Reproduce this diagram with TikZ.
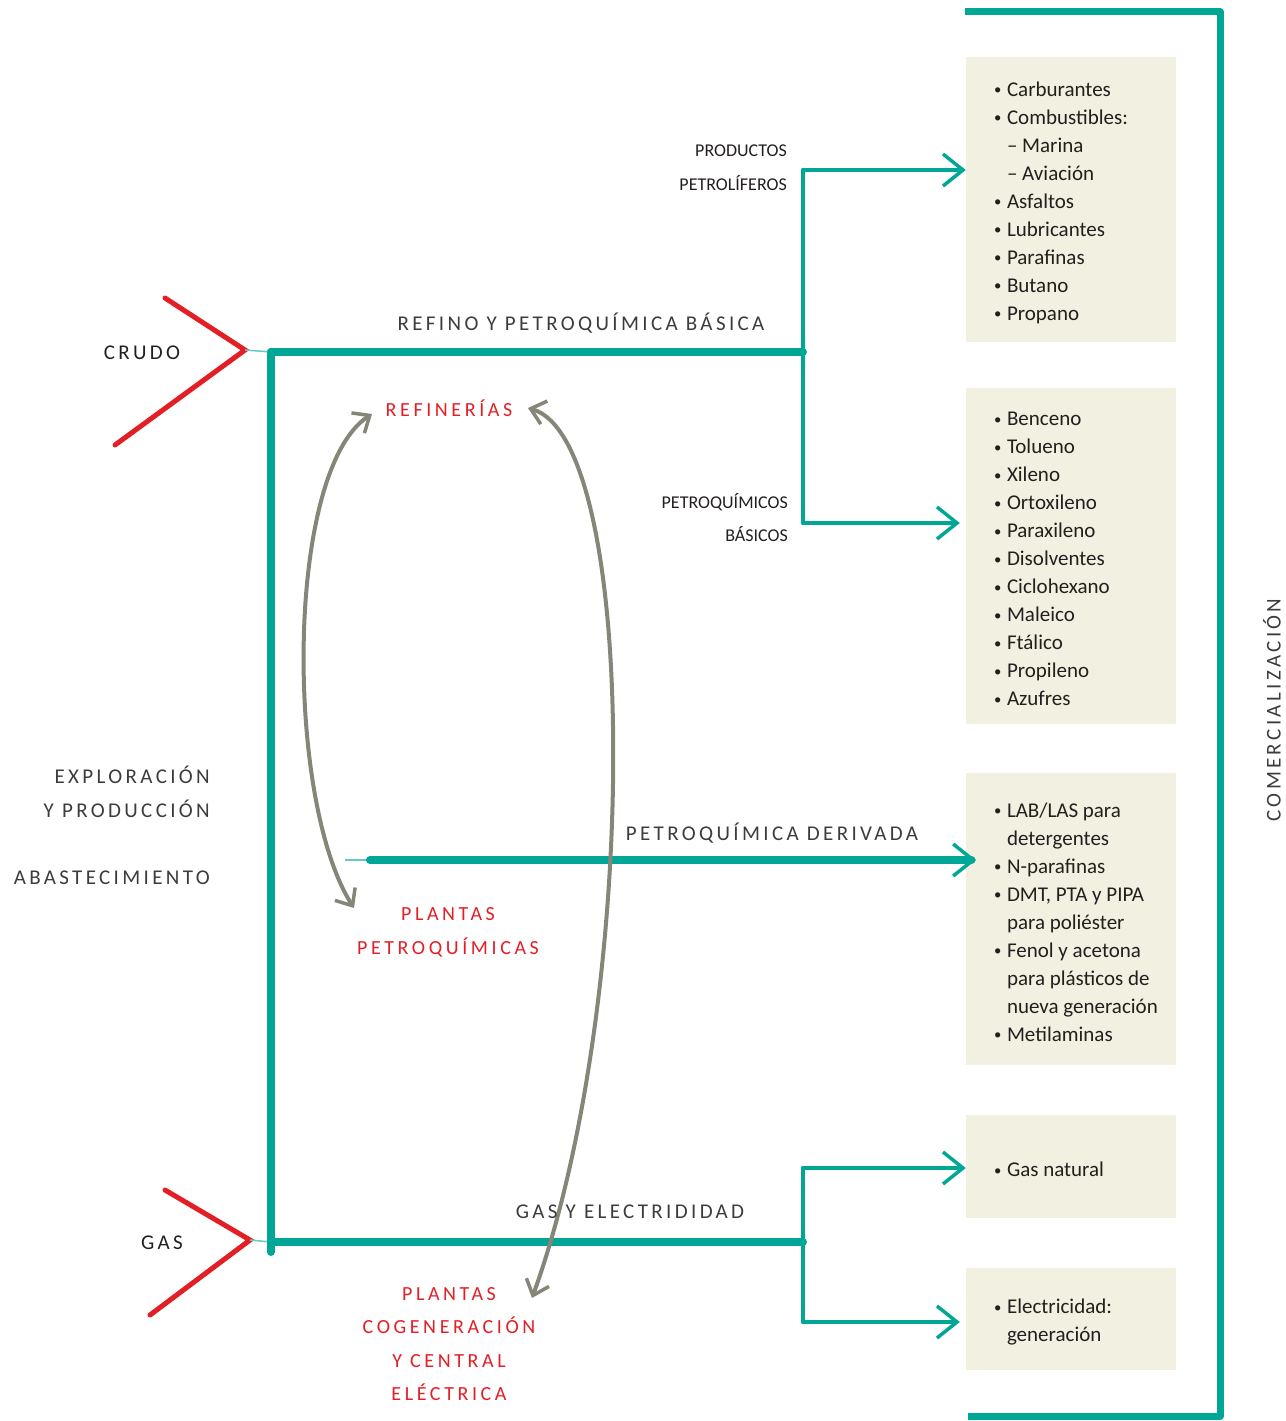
\documentclass[tikz,border=0pt]{standalone}
\usepackage{fontspec}
\setmainfont{Carlito}
\newfontfamily\spacedfont[LetterSpace=16]{Carlito}
\newfontfamily\redspacedfont[LetterSpace=18]{Carlito}
\usetikzlibrary{arrows.meta}
\definecolor{flowteal}{RGB}{0,166,150}
\definecolor{crudered}{RGB}{227,30,36}
\definecolor{loopgrey}{RGB}{134,134,120}
\definecolor{boxfill}{RGB}{242,240,225}
\definecolor{inktext}{RGB}{35,31,32}
\definecolor{thintext}{RGB}{60,60,60}
\newcommand{\listbullet}{\makebox[13pt][l]{\raisebox{1.5pt}{\scalebox{0.7}{\textbullet}}}}
\newcommand{\listindent}{\hspace*{13pt}}
\begin{document}
\begin{tikzpicture}[x=1pt,y=-1pt,
	mainline/.style={draw=flowteal,line width=8pt,line cap=round},
	branchline/.style={draw=flowteal,line width=4pt,line cap=round},
	faintline/.style={draw=flowteal!60,line width=1.5pt},
	tealtip/.style={-{Straight Barb[length=20pt,width=32pt,line width=3.5pt]}},
	redline/.style={draw=crudered,line width=5pt,line cap=round,line join=miter},
	loopline/.style={draw=loopgrey,line width=4pt,
		{Straight Barb[length=14pt,width=24pt,line width=3.5pt]}-{Straight Barb[length=14pt,width=24pt,line width=3.5pt]}},
	prodbox/.style={fill=boxfill,minimum width=210pt,inner sep=0pt},
	listtext/.style={align=left,inner sep=0pt,anchor=west,yshift=-3pt,text=inktext,font=\fontsize{21}{28}\selectfont},
	bigcaps/.style={inner sep=0pt,text=inktext,font=\spacedfont\fontsize{21}{21}\selectfont},
	thincaps/.style={inner sep=0pt,text=thintext,font=\spacedfont\fontsize{21}{21}\selectfont},
	redcaps/.style={inner sep=0pt,text=crudered,font=\redspacedfont\fontsize{20}{20}\selectfont},
	smallcaps/.style={inner sep=0pt,text=inktext,font=\fontsize{18}{18}\selectfont}]
	\useasboundingbox (0,0) rectangle (1285,1421);
	\coordinate (crudotip) at (245,350);
	\coordinate (gastip) at (250,1240);
	\coordinate (topleft) at (271,352);
	\coordinate (botleft) at (271,1252);
	\coordinate (gasleft) at (271,1242);
	\coordinate (refjoin) at (803,352);
	\coordinate (ppjoin) at (803,170);
	\coordinate (pbjoin) at (803,523);
	\coordinate (derstart) at (345,860);
	\coordinate (derend) at (976,860);
	\coordinate (gasjoin) at (803,1242);
	\coordinate (gnjoin) at (803,1168);
	\coordinate (eljoin) at (803,1322);
	\coordinate (comtop) at (965,12);
	\coordinate (comcorner) at (1220,12);
	\coordinate (comfoot) at (1220,1416);
	\coordinate (combot) at (968,1416);
	\coordinate (refleft) at (372,414);
	\coordinate (refright) at (528,408);
	\coordinate (pqtop) at (354,908);
	\coordinate (cogtop) at (532,1298);
	\node[prodbox,minimum height=285pt] (petroliferos) at (1071,199.5) {};
	\node[prodbox,minimum height=336pt] (basicos) at (1071,556) {};
	\node[prodbox,minimum height=292pt] (derivados) at (1071,919) {};
	\node[prodbox,minimum height=103pt] (gasnatural) at (1071,1166.5) {};
	\node[prodbox,minimum height=102pt] (electricidad) at (1071,1319) {};
	\node[listtext] (petroliferoslist) at ([xshift=28pt]petroliferos.west) {\listbullet Carburantes\\
		\listbullet Combustibles:\\
		\listindent\textendash\ Marina\\
		\listindent\textendash\ Aviación\\
		\listbullet Asfaltos\\
		\listbullet Lubricantes\\
		\listbullet Parafinas\\
		\listbullet Butano\\
		\listbullet Propano};
	\node[listtext] (basicoslist) at ([xshift=28pt]basicos.west) {\listbullet Benceno\\
		\listbullet Tolueno\\
		\listbullet Xileno\\
		\listbullet Ortoxileno\\
		\listbullet Paraxileno\\
		\listbullet Disolventes\\
		\listbullet Ciclohexano\\
		\listbullet Maleico\\
		\listbullet Ftálico\\
		\listbullet Propileno\\
		\listbullet Azufres};
	\node[listtext] (derivadoslist) at ([xshift=28pt]derivados.west) {\listbullet LAB/LAS para\\
		\listindent detergentes\\
		\listbullet N-parafinas\\
		\listbullet DMT, PTA y PIPA\\
		\listindent para poliéster\\
		\listbullet Fenol y acetona\\
		\listindent para plásticos de\\
		\listindent nueva generación\\
		\listbullet Metilaminas};
	\node[listtext] (gasnaturallist) at ([xshift=28pt]gasnatural.west) {\listbullet Gas natural};
	\node[listtext] (electricidadlist) at ([xshift=28pt]electricidad.west) {\listbullet Electricidad:\\
		\listindent generación};
	\draw[redline] (165,298) -- (crudotip) -- (115,445);
	\draw[redline] (165,1190) -- (gastip) -- (150,1315);
	\draw[faintline] (crudotip) -- (topleft);
	\draw[faintline] (gastip) -- (gasleft);
	\draw[mainline] (topleft) -- (botleft);
	\draw[mainline] (topleft) -- (refjoin);
	\draw[branchline] (ppjoin) -- (pbjoin);
	\draw[branchline,tealtip] (ppjoin) -- (ppjoin -| petroliferos.west);
	\draw[branchline,tealtip] (pbjoin) -- ([xshift=-6pt]pbjoin -| basicos.west);
	\draw[faintline] (derstart) -- (370,860);
	\draw[mainline,tealtip] (370,860) -- (derend);
	\draw[mainline] (gasleft) -- (gasjoin);
	\draw[branchline] (gnjoin) -- (eljoin);
	\draw[branchline,tealtip] (gnjoin) -- (gnjoin -| gasnatural.west);
	\draw[branchline,tealtip] (eljoin) -- ([xshift=-6pt]eljoin -| electricidad.west);
	\draw[draw=flowteal,line width=7pt,line join=round] (comtop) -- (comcorner) -- (comfoot) -- (combot);
	\draw[loopline] (refleft) .. controls (285,470) and (285,800) .. (pqtop);
	\draw[loopline] (refright) .. controls (640,440) and (640,1000) .. (cogtop);
	\path (142,359) node [bigcaps,anchor=base] (crudo) {CRUDO};
	\path (162,1249) node [bigcaps,anchor=base] (gas) {GAS};
	\path (581,330) node [thincaps,anchor=base] (refino) {REFINO Y PETROQUÍMICA BÁSICA};
	\path (772,840) node [thincaps,anchor=base] (derivada) {PETROQUÍMICA DERIVADA};
	\path (630,1218) node [thincaps,anchor=base] (gaselec) {GAS Y ELECTRIDIDAD};
	\path (210,783) node [thincaps,anchor=base east] (exploracion) {EXPLORACIÓN};
	\path (210,817) node [thincaps,anchor=base east] (produccion) {Y PRODUCCIÓN};
	\path (210,884) node [thincaps,anchor=base east] (abastecimiento) {ABASTECIMIENTO};
	\path (1272,710) node [thincaps,rotate=90] (comercializacion) {COMERCIALIZACIÓN};
	\path (787,156) node [smallcaps,anchor=base east] (productos) {PRODUCTOS};
	\path (787,190) node [smallcaps,anchor=base east] (petrol) {PETROLÍFEROS};
	\path (788,508) node [smallcaps,anchor=base east] (petroquimicos) {PETROQUÍMICOS};
	\path (788,541) node [smallcaps,anchor=base east] (basicoslabel) {BÁSICOS};
	\path (449,416) node [redcaps,anchor=base] (refinerias) {REFINERÍAS};
	\path (448,920) node [redcaps,anchor=base] (plantaspq) {PLANTAS};
	\path (448,954) node [redcaps,anchor=base] (petroquimicas) {PETROQUÍMICAS};
	\path (449,1300) node [redcaps,anchor=base] (plantascog) {PLANTAS};
	\path (449,1333) node [redcaps,anchor=base] (cogeneracion) {COGENERACIÓN};
	\path (449,1367) node [redcaps,anchor=base] (ycentral) {Y CENTRAL};
	\path (449,1400) node [redcaps,anchor=base] (electrica) {ELÉCTRICA};
\end{tikzpicture}
\end{document}
